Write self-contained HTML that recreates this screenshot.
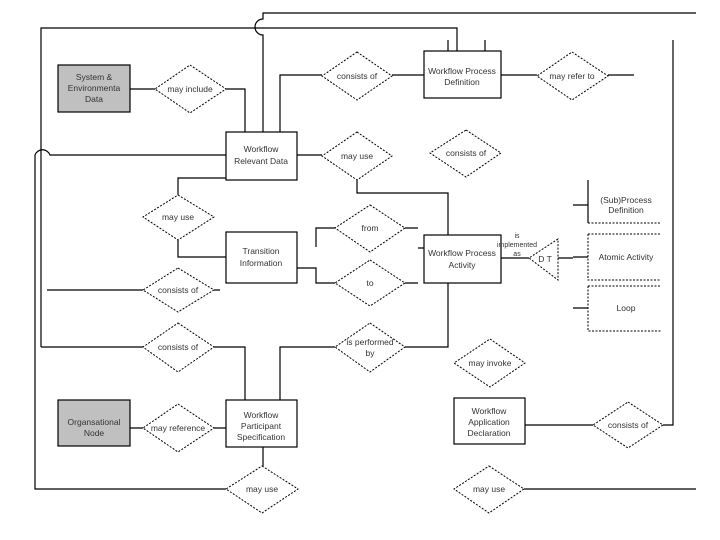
<!DOCTYPE html>
<html><head><style>
html,body{margin:0;padding:0;background:#fff;}
svg{display:block;}
text{font-family:"Liberation Sans",sans-serif;font-size:8.5px;fill:#333;text-anchor:middle;}
</style></head><body>
<svg width="720" height="540" viewBox="0 0 720 540" xmlns="http://www.w3.org/2000/svg">
<g fill="none" stroke="#000" stroke-width="1.2">
<path d="M696,13 L263,13 L263,19 A8,8 0 0 0 263,35 L263,132"/>
<path d="M41,347 L41,28 L457,28 L457,51"/>
<path d="M448,40 L448,51 M485,40 L485,51"/>
<path d="M673,40 L673,425 L663,425"/>
<path d="M245,132 L245,89 L226,89"/>
<path d="M130,89 L155,89"/>
<path d="M280,132 L280,75 L322,75 M392,75 L424,75 M501,75 L537,75 M608,75 L634,75"/>
<path d="M226,155 L50,155 A8,8 0 0 0 35,155 L35,489 L226,489"/>
<path d="M297,155 L322,155"/>
<path d="M357,180 L357,193 L448,193 L448,235"/>
<path d="M226,178 L178,178 L178,195"/>
<path d="M178,240 L178,257 L226,257"/>
<path d="M335,228 L316,228 L316,247 M297,268 L316,268 L316,283 L335,283"/>
<path d="M405,228 L418,228 M405,283 L418,283 M418,248 L424,248"/>
<path d="M501,258 L529,258"/>
<path d="M558,258 L573,258 M573,205 L588,205 M573,257 L588,257 M573,308 L588,308"/>
<path d="M448,283 L448,347 L405,347 M335,347 L280,347 L280,400"/>
<path d="M41,347 L143,347 M214,347 L245,347 L245,400"/>
<path d="M47,290 L143,290 M214,290 L220,290"/>
<path d="M130,428 L143,428 M214,428 L226,428"/>
<path d="M263,447 L263,466"/>
<path d="M524,489 L696,489"/>
<path d="M525,425 L593,425"/>
<path d="M588,180 L588,223"/>
</g>
<g stroke="#000" stroke-width="1.2">
<rect x="58" y="65" width="72" height="47" fill="#c0c0c0"/>
<rect x="58" y="400" width="72" height="46" fill="#c0c0c0"/>
<rect x="424" y="51" width="77" height="47" fill="#fff"/>
<rect x="226" y="132" width="71" height="48" fill="#fff"/>
<rect x="226" y="232" width="71" height="51" fill="#fff"/>
<rect x="424" y="235" width="77" height="48" fill="#fff"/>
<rect x="226" y="400" width="71" height="47" fill="#fff"/>
<rect x="454" y="398" width="71" height="46" fill="#fff"/>
</g>
<g fill="#fff" stroke="#000" stroke-width="1" stroke-dasharray="2,1.5">
<path d="M190,65 L226,89 L190,113 L155,89 Z"/>
<path d="M357,52 L392,76 L357,100 L322,76 Z"/>
<path d="M572,52 L608,76 L572,100 L537,76 Z"/>
<path d="M357,132 L392,156 L357,180 L322,156 Z"/>
<path d="M466,130 L501,153 L466,177 L430,153 Z"/>
<path d="M178,195 L214,217 L178,240 L143,217 Z"/>
<path d="M370,205 L405,228 L370,252 L335,228 Z"/>
<path d="M370,260 L405,283 L370,306 L335,283 Z"/>
<path d="M178,268 L214,290 L178,312 L143,290 Z"/>
<path d="M178,323 L214,347 L178,372 L143,347 Z"/>
<path d="M370,323 L405,347 L370,372 L335,347 Z"/>
<path d="M490,339 L525,363 L490,387 L454,363 Z"/>
<path d="M178,404 L214,428 L178,452 L143,428 Z"/>
<path d="M628,402 L663,425 L628,448 L593,425 Z"/>
<path d="M262,466 L298,489 L262,513 L226,489 Z"/>
<path d="M489,466 L524,489 L489,513 L454,489 Z"/>
<path d="M558,239 L529,258 L558,280 Z"/>
<path d="M588,223 L661,223 M588,234 L661,234 M588,234 L588,280 L661,280 M588,286 L661,286 M588,286 L588,331 L661,331" fill="none"/>
</g>
<text x="94" y="80">System &amp;</text>
<text x="94" y="91">Environmenta</text>
<text x="94" y="102">Data</text>
<text x="94" y="425">Organsational</text>
<text x="94" y="436">Node</text>
<text x="462" y="74">Workflow Process</text>
<text x="462" y="85">Definition</text>
<text x="261" y="152">Workflow</text>
<text x="261" y="164">Relevant Data</text>
<text x="261" y="254">Transition</text>
<text x="261" y="266">Information</text>
<text x="462" y="256">Workflow Process</text>
<text x="462" y="268">Activity</text>
<text x="261" y="418">Workflow</text>
<text x="261" y="429">Participant</text>
<text x="261" y="440">Specification</text>
<text x="489" y="414">Workflow</text>
<text x="489" y="425">Application</text>
<text x="489" y="436">Declaration</text>
<text x="190" y="92">may include</text>
<text x="357" y="79">consists of</text>
<text x="572" y="79">may refer to</text>
<text x="357" y="159">may use</text>
<text x="466" y="156">consists of</text>
<text x="178" y="220">may use</text>
<text x="370" y="231">from</text>
<text x="370" y="286">to</text>
<text x="178" y="293">consists of</text>
<text x="178" y="350">consists of</text>
<text x="370" y="345">is performed</text>
<text x="370" y="356">by</text>
<text x="490" y="366">may invoke</text>
<text x="178" y="431">may reference</text>
<text x="628" y="428">consists of</text>
<text x="262" y="492">may use</text>
<text x="489" y="492">may use</text>
<text x="517" y="238" style="font-size:7px">is</text>
<text x="517" y="247" style="font-size:7px">implemented</text>
<text x="517" y="256" style="font-size:7px">as</text>
<text x="545" y="262">D T</text>
<text x="626" y="203">(Sub)Process</text>
<text x="626" y="213">Definition</text>
<text x="626" y="260">Atomic Activity</text>
<text x="626" y="311">Loop</text>
</svg>
</body></html>
